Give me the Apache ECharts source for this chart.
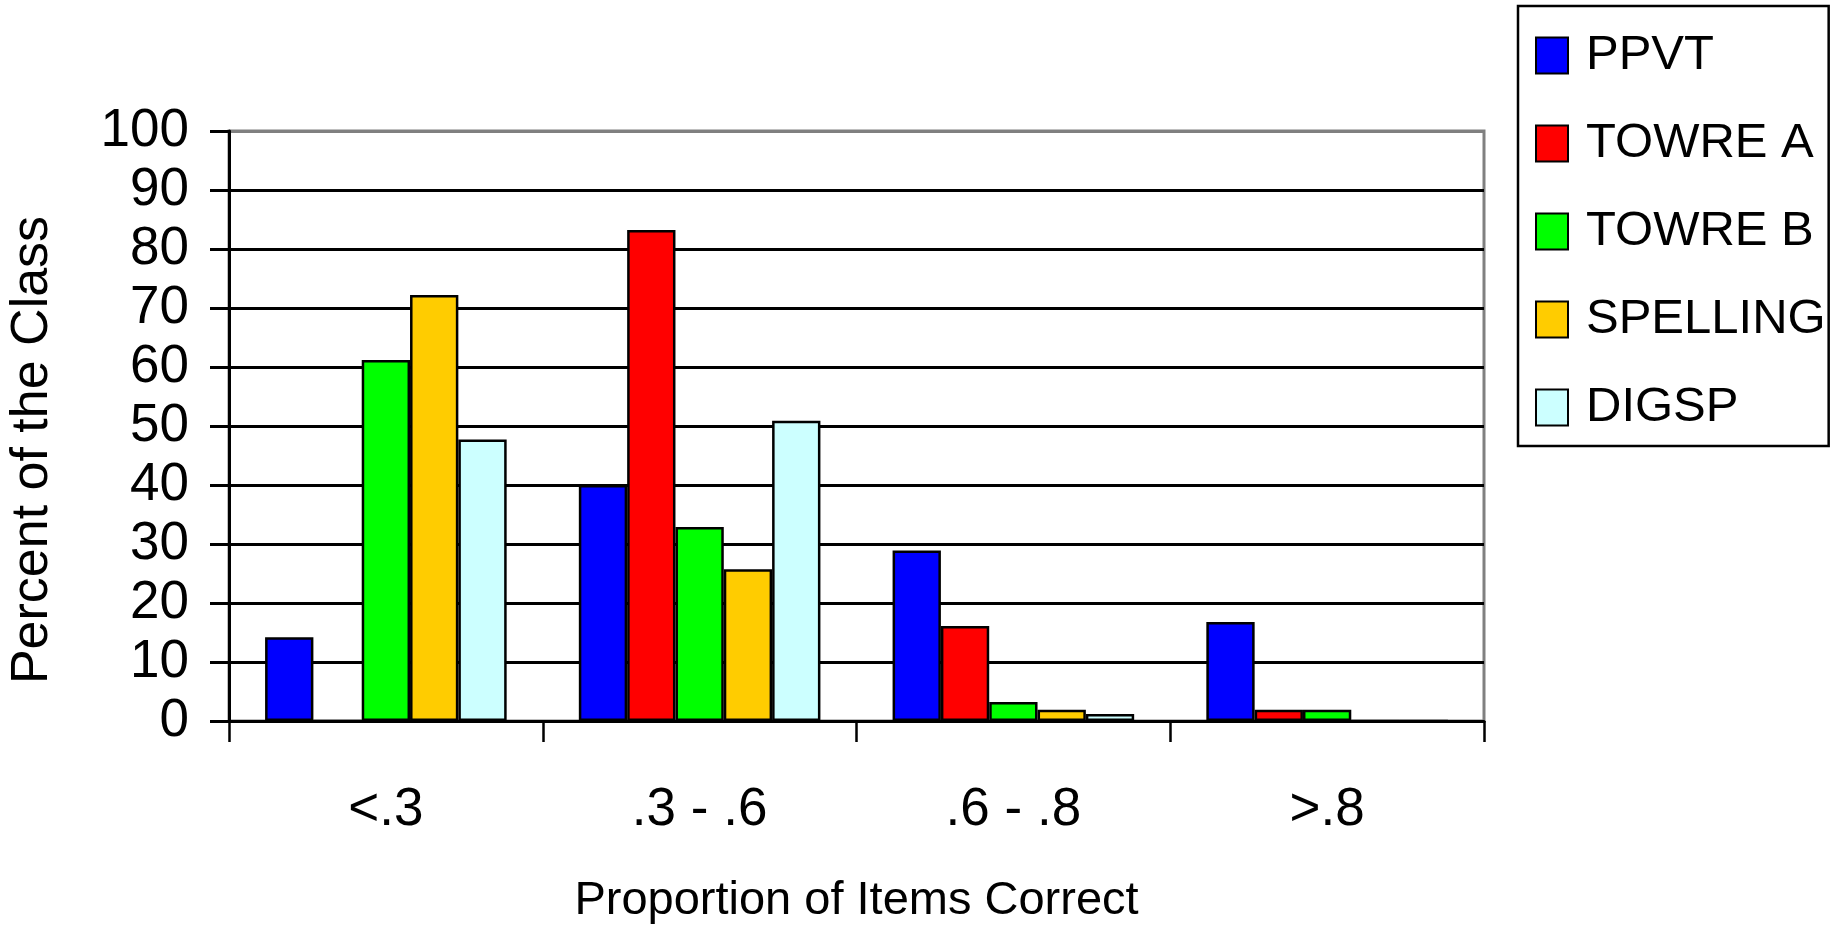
<!DOCTYPE html>
<html>
<head>
<meta charset="utf-8">
<script src="https://cdn.jsdelivr.net/npm/echarts@6/dist/echarts.min.js"></script>
<style>
  html, body { margin: 0; padding: 0; background: #fff; }
  #chart { width: 1830px; height: 930px; }
</style>
</head>
<body>
<div id="chart"></div>
<script>
const categories = ['<.3', '.3 - .6', '.6 - .8', '>.8']
const seriesNames = ['PPVT', 'TOWRE A', 'TOWRE B', 'SPELLING', 'DIGSP']
const ppvt = [14.2, 40, 28.9, 16.8]
const towreA = [0, 83.2, 16.1, 1.9]
const towreB = [61.2, 32.9, 3.2, 1.9]
const spelling = [72.2, 25.7, 1.9, 0]
const digsp = [47.7, 50.9, 1.2, 0]
const colors = ['#0000ff', '#ff0000', '#00ff00', '#ffcc00', '#ccffff']

const font = 'Liberation Sans, Arial, sans-serif'
const chart = echarts.init(document.getElementById('chart'))

// split line colours: black inside, grey at the top (plot border)
const splitColors = []
for (let i = 0; i <= 10; i++) splitColors.push(i === 10 ? '#808080' : '#000')

const values = [ppvt, towreA, towreB, spelling, digsp]
const series = seriesNames.map((name, i) => ({
  name: name,
  type: 'bar',
  data: values[i],
  barGap: '0%',
  barCategoryGap: '23%',
  itemStyle: {
    color: colors[i],
    borderColor: '#000',
    borderWidth: 2.5
  }
}))

const option = {
  backgroundColor: '#fff',
  animation: false,
  textStyle: { fontFamily: font, color: '#000' },
  grid: {
    left: 229,
    right: 346,
    top: 131,
    bottom: 208,
    show: true,
    borderColor: '#808080',
    borderWidth: 3
  },
  legend: {
    orient: 'vertical',
    left: 1518,
    top: 6,
    padding: [24, 3, 13, 17],
    itemWidth: 32,
    itemHeight: 36,
    itemGap: 37,
    icon: 'rect',
    borderColor: '#000',
    borderWidth: 2.5,
    data: seriesNames,
    textStyle: {
      fontFamily: font,
      fontSize: 49,
      lineHeight: 51,
      color: '#000',
      padding: [0, 0, 0, 13]
    }
  },
  xAxis: {
    type: 'category',
    data: categories,
    name: 'Proportion of Items Correct',
    nameLocation: 'middle',
    nameGap: 157,
    nameTextStyle: { fontFamily: font, fontSize: 47, color: '#000' },
    axisLine: { lineStyle: { color: '#000', width: 3 } },
    axisTick: { show: true, length: 21, inside: false, lineStyle: { color: '#000', width: 2.5 } },
    axisLabel: { fontFamily: font, fontSize: 53, color: '#000', margin: 63 }
  },
  yAxis: {
    type: 'value',
    min: 0,
    max: 100,
    interval: 10,
    axisLine: { show: true, lineStyle: { color: '#000', width: 3 } },
    axisTick: { show: true, length: 19, lineStyle: { color: '#000', width: 3 } },
    axisLabel: { fontFamily: font, fontSize: 53, color: '#000', margin: 40 },
    splitLine: { show: true, lineStyle: { color: splitColors, width: 3 } }
  },
  graphic: [
    {
      type: 'text',
      x: 33,
      y: 450,
      rotation: Math.PI / 2,
      style: {
        text: 'Percent of the Class',
        fontFamily: font,
        fontSize: 52,
        fill: '#000',
        align: 'center',
        verticalAlign: 'middle'
      }
    }
  ],
  series: series
}

chart.setOption(option)
</script>
</body>
</html>
